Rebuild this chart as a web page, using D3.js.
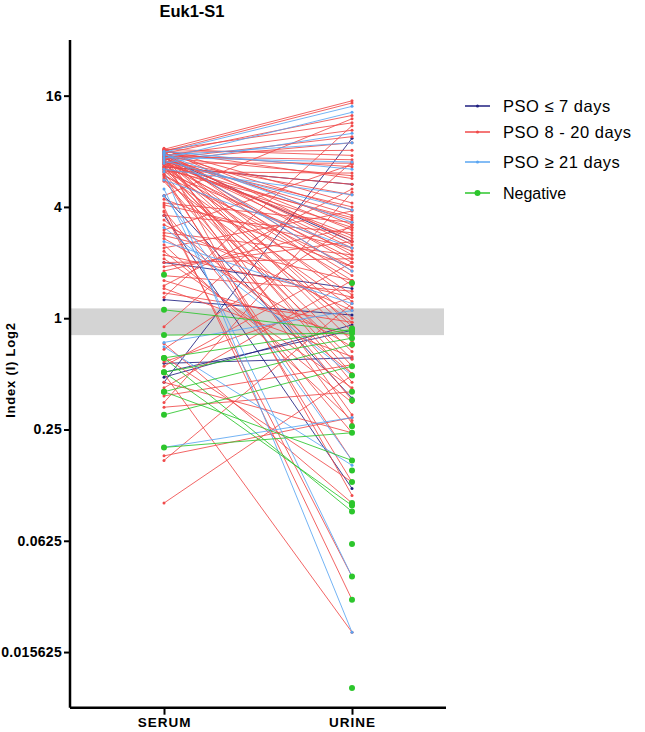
<!DOCTYPE html>
<html>
<head>
<meta charset="utf-8">
<script src="https://cdn.jsdelivr.net/npm/d3@7"></script>
<style>
  body { margin: 0; background: #fff; }
  text { font-family: Arial, "Liberation Sans", sans-serif; }
</style>
</head>
<body>
<div id="chart"></div>
<script>
// categories and ticks
var categories = ["SERUM", "URINE"];
var yTickValues = [16, 4, 1, 0.25, 0.0625, 0.015625];
var yDomain = [0.0078125, 32];
var cutoffBand = [0.81, 1.13];

// PSO <= 7 days
var earlySerum = [0.45, 6.6, 2.0, 1.26, 0.48, 0.57, 0.51, 4.6, 3.6, 7.4];
var earlyUrine = [9.4, 5.3, 1.45, 1.04, 0.92, 0.61, 0.86, 0.37, 0.12, 2.6];

// PSO 8 - 20 days
var midSerum = [
  8.2, 8.0, 7.8, 8.1, 7.6, 7.2, 7.9, 7.5, 6.9, 7.7,
  7.4, 8.0, 6.6, 7.1, 7.8, 7.3, 6.8, 8.2, 6.5, 7.0,
  7.6, 6.2, 7.9, 6.7, 7.4, 5.9, 7.1, 8.0, 6.4, 7.5,
  6.0, 7.2, 5.6, 6.9, 7.7, 6.3, 5.8, 7.0, 6.6, 7.3,
  5.5, 6.1, 7.8, 6.8, 5.7, 6.0, 7.4, 8.1, 7.6, 6.9,
  7.2, 8.3, 6.4, 7.0, 7.7, 6.5, 7.9, 6.2, 8.2, 7.3,
  4.6, 4.2, 4.0, 3.75, 3.6, 3.2, 2.9, 2.7, 2.4, 2.2,
  2.1, 1.9, 1.6, 1.5, 1.37, 1.3, 4.4, 3.4, 2.8, 2.5,
  2.0, 1.8, 1.45, 3.0, 4.1, 2.3, 1.7, 3.8,
  0.5, 0.1, 0.18, 0.17, 0.68, 0.55, 0.45, 0.42, 0.38, 0.35,
  0.62, 0.9, 0.58, 0.73, 0.33
];
var midUrine = [
  15.0, 14.6, 12.5, 11.4, 10.4, 8.9, 8.1, 7.2, 6.9, 6.6,
  5.9, 5.7, 5.3, 4.65, 3.85, 3.6, 3.4, 3.2, 3.1, 2.7,
  2.5, 2.3, 2.2, 2.1, 2.0, 1.9, 1.7, 1.5, 1.34, 1.23,
  1.14, 1.0, 0.95, 0.85, 0.75, 0.66, 0.6, 0.55, 0.5, 0.45,
  0.41, 0.36, 0.3, 0.27, 0.17, 0.13, 0.11, 4.2, 3.0, 2.8,
  2.4, 2.6, 3.5, 4.0, 1.8, 1.6, 0.9, 6.1, 7.6, 9.6,
  12.0, 3.3, 0.03, 0.04, 2.9, 1.1, 2.2, 0.7, 3.8, 1.3,
  0.42, 2.6, 0.8, 5.0, 0.95, 11.0, 1.9, 0.5, 1.6, 0.28,
  2.1, 3.1, 0.62, 6.8, 2.4, 0.35, 1.4, 0.24,
  0.02, 0.49, 0.29, 1.2, 3.2, 2.0, 0.24, 1.6, 0.56, 4.8,
  0.13, 7.0, 1.3, 0.1, 0.4
];

// PSO >= 21 days
var lateSerum = [7.9, 7.3, 6.9, 7.6, 7.4, 8.0, 6.4, 7.1, 7.7, 5.6, 4.6, 5.0, 6.2, 0.74, 0.7, 0.2, 3.1, 7.8, 2.6];
var lateUrine = [14.0, 13.0, 10.0, 8.9, 7.0, 6.4, 4.65, 3.85, 3.3, 2.4, 0.17, 0.04, 0.02, 1.1, 0.16, 0.29, 0.49, 1.8, 1.2];

// Negative (null = no value in that column)
var negSerum = [1.72, 1.11, 0.81, 0.61, 0.61, 0.51, 0.51, 0.40, 0.40, 0.30, 0.2,
  null, null, null, null, null, null, null, null, null, null, null, null, null];
var negUrine = [null, 0.85, 0.83, 0.87, 0.09, 0.78, 0.097, 0.72, 0.17, 0.55, 0.24,
  1.55, 0.88, 0.49, 0.40, 0.36, 0.26, 0.15, 0.13, 0.1, 0.06, 0.04, 0.03, 0.01];

var groups = [
  { name: "PSO \u2264 7 days", color: "#1f1f80", serum: earlySerum, urine: earlyUrine, r: 1.5 },
  { name: "PSO 8 - 20 days", color: "#f04a4a", serum: midSerum, urine: midUrine, r: 1.5 },
  { name: "PSO \u2265 21 days", color: "#5aa6f2", serum: lateSerum, urine: lateUrine, r: 1.5 },
  { name: "Negative", color: "#2cc62c", serum: negSerum, urine: negUrine, r: 3 }
];

var width = 645, height = 732;

var svg = d3.select("#chart")
  .append("svg")
  .attr("width", width)
  .attr("height", height);

// scales
var x = d3.scalePoint().domain(categories).range([70, 446]).padding(0.5);
var y = d3.scaleLog().base(2).domain(yDomain).range([707.7, 40]);

// grey cut-off band
svg.append("rect")
  .attr("x", 70)
  .attr("width", 374)
  .attr("y", y(cutoffBand[1]))
  .attr("height", y(cutoffBand[0]) - y(cutoffBand[1]))
  .style("fill", "#d4d4d4");

// pairs for every group
function pairs(g) {
  return g.serum.map(function (s, i) { return { s: s, u: g.urine[i] }; });
}

// draw order: navy under red, blue and green on top
var drawOrder = [0, 1, 2, 3];
drawOrder.forEach(function (gi) {
  var g = groups[gi];
  svg.append("g")
    .selectAll("line")
    .data(pairs(g).filter(function (d) { return d.s != null && d.u != null; }))
    .enter()
    .append("line")
    .attr("x1", x("SERUM"))
    .attr("x2", x("URINE"))
    .attr("y1", function (d) { return y(d.s); })
    .attr("y2", function (d) { return y(d.u); })
    .style("stroke", g.color)
    .style("stroke-width", 1)
    .style("stroke-opacity", 0.85);
});

drawOrder.forEach(function (gi) {
  var g = groups[gi];
  var pts = [];
  pairs(g).forEach(function (d) {
    if (d.s != null) pts.push({ c: "SERUM", v: d.s });
    if (d.u != null) pts.push({ c: "URINE", v: d.u });
  });
  svg.append("g")
    .selectAll("circle")
    .data(pts)
    .enter()
    .append("circle")
    .attr("cx", function (d) { return x(d.c); })
    .attr("cy", function (d) { return y(d.v); })
    .attr("r", g.r)
    .style("fill", g.color);
});

// y axis
var yAxis = svg.append("g")
  .attr("transform", "translate(70,0)")
  .call(d3.axisLeft(y).tickValues(yTickValues).tickFormat(function (d) { return String(d); }).tickSize(6).tickPadding(2));
yAxis.select(".domain").attr("d", "M0,40V707.7").style("stroke", "#000").style("stroke-width", 2.5);
yAxis.selectAll(".tick line").style("stroke-width", 2);
yAxis.selectAll(".tick text")
  .style("font-size", "14px")
  .style("font-weight", "bold")
  .style("letter-spacing", "0.3px")
  .style("fill", "#000");

// x axis
var xAxis = svg.append("g")
  .attr("transform", "translate(0,707.7)")
  .call(d3.axisBottom(x).tickSize(7).tickPadding(3));
xAxis.select(".domain").attr("d", "M70,0H446").style("stroke", "#000").style("stroke-width", 2.5);
xAxis.selectAll(".tick line").style("stroke-width", 2);
xAxis.selectAll(".tick text")
  .style("font-size", "13.5px")
  .style("font-weight", "bold")
  .style("letter-spacing", "1px")
  .style("fill", "#000");

// title
svg.append("text")
  .attr("x", 192)
  .attr("y", 17)
  .attr("text-anchor", "middle")
  .style("font-size", "16.5px")
  .style("font-weight", "bold")
  .text("Euk1-S1");

// y axis label
svg.append("text")
  .attr("transform", "translate(15,370) rotate(-90)")
  .attr("text-anchor", "middle")
  .style("font-size", "13px")
  .style("font-weight", "bold")
  .style("letter-spacing", "0.8px")
  .text("Index (I) Log2");

// legend
var legendY = [106, 132, 162, 193];
var legend = svg.append("g");
groups.forEach(function (g, i) {
  var row = legend.append("g").attr("transform", "translate(0," + legendY[i] + ")");
  row.append("line")
    .attr("x1", 465).attr("x2", 490)
    .style("stroke", g.color)
    .style("stroke-width", 1.5);
  row.append("circle")
    .attr("cx", 477.5)
    .attr("r", i === 3 ? 3 : 1.5)
    .style("fill", g.color);
  row.append("text")
    .attr("x", 503)
    .attr("dy", "0.35em")
    .style("font-size", i === 3 ? "16px" : "16.5px")
    .style("letter-spacing", i === 3 ? "0px" : "0.5px")
    .text(g.name);
});
</script>
</body>
</html>
